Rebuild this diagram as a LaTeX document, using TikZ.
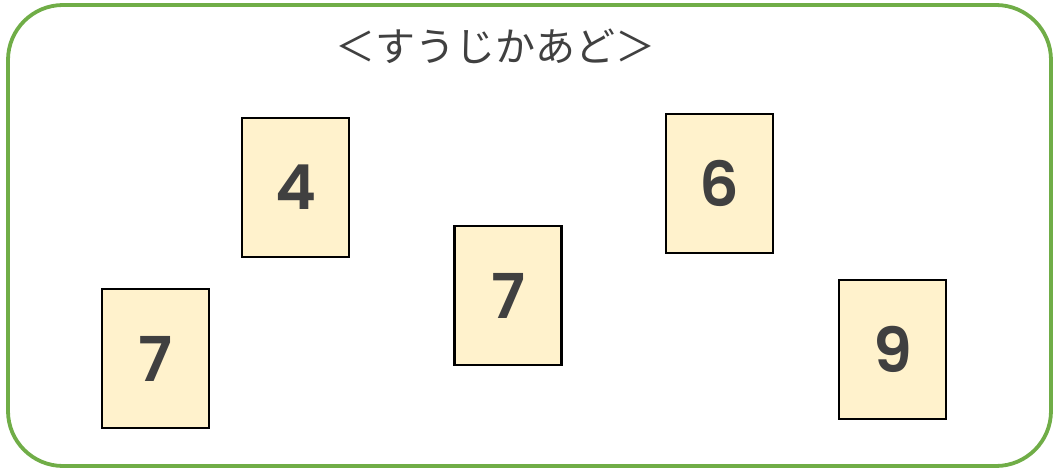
\documentclass[tikz,border=0pt]{standalone}
\usepackage{fontspec}
\usepackage{xcolor}
\setmainfont{Poppins}[BoldFont={* SemiBold}]
\newfontfamily\jpfont{Noto Sans CJK JP}[Scale=1.0]
\definecolor{framegreen}{HTML}{70AD47}
\definecolor{cardfill}{HTML}{FFF2CC}
\definecolor{digitgray}{HTML}{404040}
\usetikzlibrary{positioning}

\begin{document}
\begin{tikzpicture}[x=1pt,y=-1pt,
		card/.style={draw=black,line width=2.6pt,fill=cardfill,minimum width=107pt,minimum height=139pt,inner sep=0pt,
			font=\fontsize{62}{62}\selectfont\bfseries,text=digitgray},
		title/.style={font=\jpfont\fontsize{40}{40}\selectfont,text=digitgray}]
		\useasboundingbox (0,0) rectangle (1053,470);
		\draw[framegreen,line width=3.8pt,rounded corners=55pt] (8,5) rectangle (1051,466);
		\node[title] (heading) at (495,46) {＜すうじかあど＞};
		%
		\node[card] (c4) at (295.5,187.5) {4};
		\node[card] (c6) at (719.5,183.5) {6};
		\node[card] (c7mid) at (508,295.5) {7};
		\node[card] (c7left) at (155.5,358.5) {7};
		\node[card] (c9) at (892.5,349.5) {9};
	\end{tikzpicture}
\end{document}
